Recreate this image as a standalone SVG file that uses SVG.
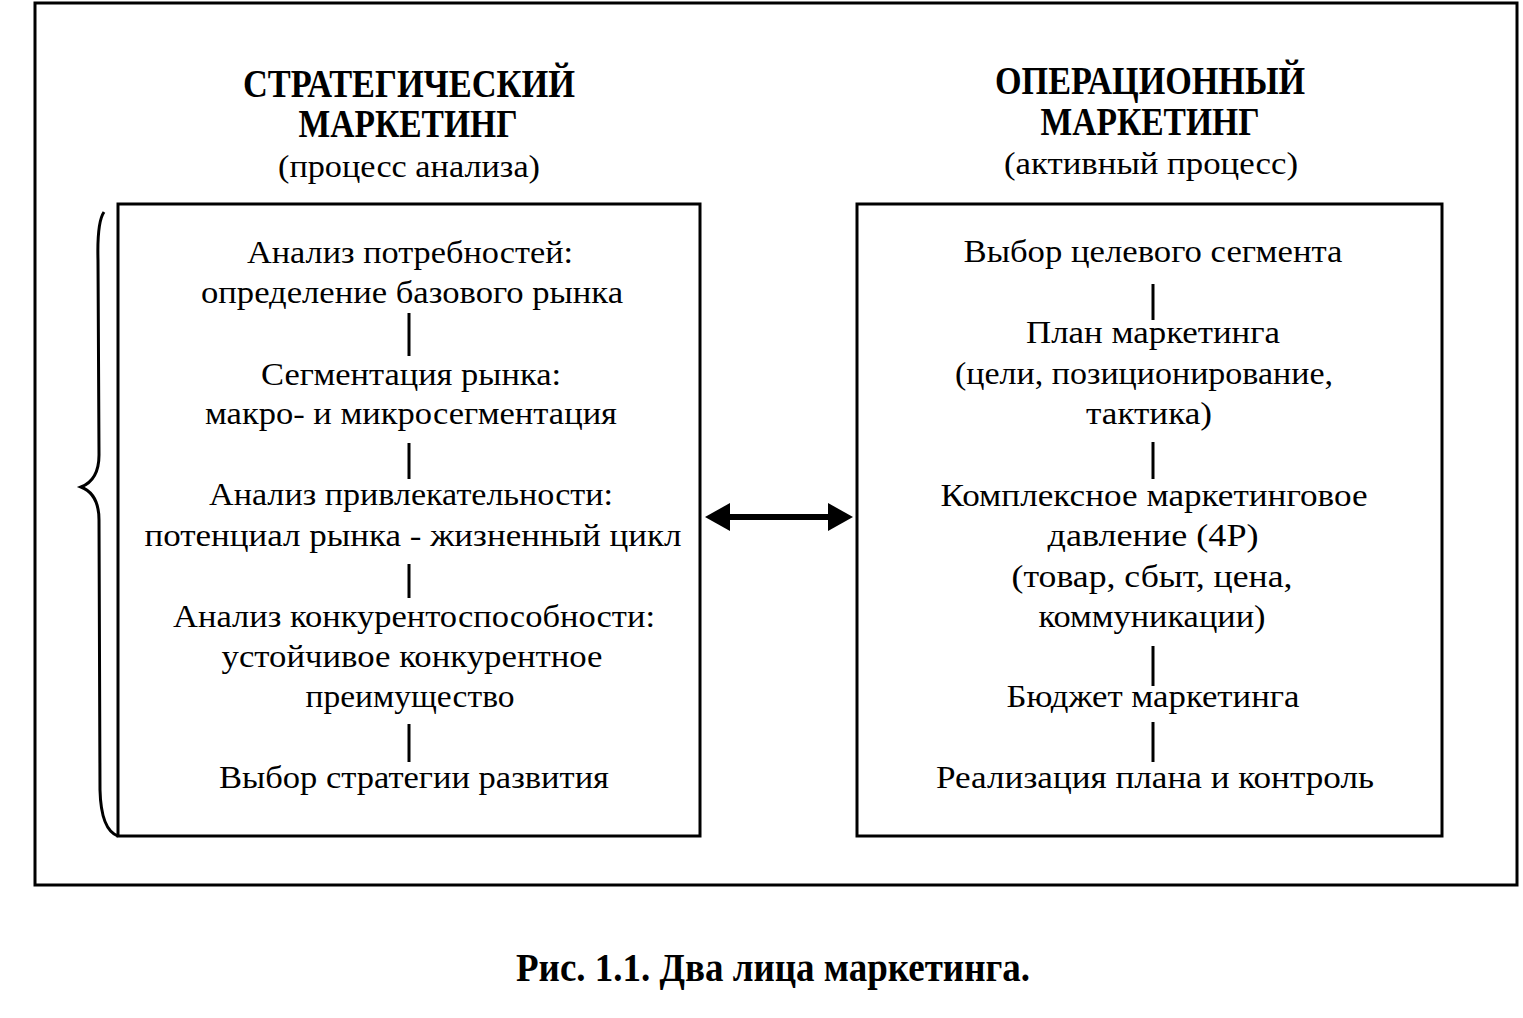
<svg xmlns="http://www.w3.org/2000/svg" width="1523" height="1018" viewBox="0 0 1523 1018">
<style>
.t{font-family:"Liberation Serif","Times New Roman",serif;font-size:32px;fill:#000;text-anchor:middle}
.h{font-family:"Liberation Serif","Times New Roman",serif;font-size:39px;font-weight:bold;fill:#000;text-anchor:middle}
.s{font-family:"Liberation Serif","Times New Roman",serif;font-size:32px;fill:#000;text-anchor:middle}
.box{fill:none;stroke:#000;stroke-width:3}
.ln{stroke:#000;stroke-width:3}
</style>
<rect width="1523" height="1018" fill="#fff"/>
<g id="frame">
<rect x="35" y="3" width="1482" height="882" class="box"/>
</g>
<g id="brace">
<path d="M104,212 Q97,222 98,260 L99,455 Q99,480 81,487 Q99,494 99,520 L100,790 Q101,830 118,836" fill="none" stroke="#000" stroke-width="3"/>
</g>
<g id="title-left">
<text class="h" x="409" y="97" textLength="332" lengthAdjust="spacingAndGlyphs">СТРАТЕГИЧЕСКИЙ</text>
<text class="h" x="408" y="137" textLength="219" lengthAdjust="spacingAndGlyphs">МАРКЕТИНГ</text>
<text class="s" x="409" y="177" textLength="262" lengthAdjust="spacingAndGlyphs">(процесс анализа)</text>
</g>
<g id="title-right">
<text class="h" x="1150" y="94" textLength="310" lengthAdjust="spacingAndGlyphs">ОПЕРАЦИОННЫЙ</text>
<text class="h" x="1150" y="135" textLength="219" lengthAdjust="spacingAndGlyphs">МАРКЕТИНГ</text>
<text class="s" x="1151" y="174" textLength="294" lengthAdjust="spacingAndGlyphs">(активный процесс)</text>
</g>
<g id="strategic">
<rect x="118" y="204" width="582" height="632" class="box"/>
<text class="t" x="410" y="263" textLength="326" lengthAdjust="spacingAndGlyphs">Анализ потребностей:</text>
<text class="t" x="412" y="303" textLength="422" lengthAdjust="spacingAndGlyphs">определение базового рынка</text>
<text class="t" x="411" y="385" textLength="300" lengthAdjust="spacingAndGlyphs">Сегментация рынка:</text>
<text class="t" x="411" y="424" textLength="412" lengthAdjust="spacingAndGlyphs">макро- и микросегментация</text>
<text class="t" x="411" y="505" textLength="404" lengthAdjust="spacingAndGlyphs">Анализ привлекательности:</text>
<text class="t" x="413" y="546" textLength="537" lengthAdjust="spacingAndGlyphs">потенциал рынка - жизненный цикл</text>
<text class="t" x="414" y="627" textLength="482" lengthAdjust="spacingAndGlyphs">Анализ конкурентоспособности:</text>
<text class="t" x="412" y="667" textLength="381" lengthAdjust="spacingAndGlyphs">устойчивое конкурентное</text>
<text class="t" x="410" y="707" textLength="209" lengthAdjust="spacingAndGlyphs">преимущество</text>
<text class="t" x="414" y="788" textLength="390" lengthAdjust="spacingAndGlyphs">Выбор стратегии развития</text>
</g>
<g id="operational">
<rect x="857" y="204" width="585" height="632" class="box"/>
<text class="t" x="1153" y="262" textLength="379" lengthAdjust="spacingAndGlyphs">Выбор целевого сегмента</text>
<text class="t" x="1153" y="343" textLength="254" lengthAdjust="spacingAndGlyphs">План маркетинга</text>
<text class="t" x="1144" y="384" textLength="378" lengthAdjust="spacingAndGlyphs">(цели, позиционирование,</text>
<text class="t" x="1149" y="424" textLength="126" lengthAdjust="spacingAndGlyphs">тактика)</text>
<text class="t" x="1154" y="506" textLength="427" lengthAdjust="spacingAndGlyphs">Комплексное маркетинговое</text>
<text class="t" x="1153" y="546" textLength="211" lengthAdjust="spacingAndGlyphs">давление (4Р)</text>
<text class="t" x="1152" y="587" textLength="281" lengthAdjust="spacingAndGlyphs">(товар, сбыт, цена,</text>
<text class="t" x="1152" y="627" textLength="227" lengthAdjust="spacingAndGlyphs">коммуникации)</text>
<text class="t" x="1153" y="707" textLength="293" lengthAdjust="spacingAndGlyphs">Бюджет маркетинга</text>
<text class="t" x="1155" y="788" textLength="438" lengthAdjust="spacingAndGlyphs">Реализация плана и контроль</text>
</g>
<g id="connectors">
<line class="ln" x1="409" y1="313" x2="409" y2="356"/>
<line class="ln" x1="409" y1="443" x2="409" y2="479"/>
<line class="ln" x1="409" y1="564" x2="409" y2="598"/>
<line class="ln" x1="409" y1="724" x2="409" y2="762"/>
<line class="ln" x1="1153" y1="284" x2="1153" y2="320"/>
<line class="ln" x1="1153" y1="442" x2="1153" y2="479"/>
<line class="ln" x1="1153" y1="646" x2="1153" y2="686"/>
<line class="ln" x1="1153" y1="722" x2="1153" y2="762"/>
<line x1="728" y1="517" x2="830" y2="517" stroke="#000" stroke-width="6"/>
<path d="M705,517 L730,503 L730,531 Z" fill="#000"/>
<path d="M853,517 L828,503 L828,531 Z" fill="#000"/>
</g>
<g id="caption">
<text class="h" x="773" y="981" font-size="37" textLength="514" lengthAdjust="spacingAndGlyphs">Рис. 1.1. Два лица маркетинга.</text>
</g>
</svg>
